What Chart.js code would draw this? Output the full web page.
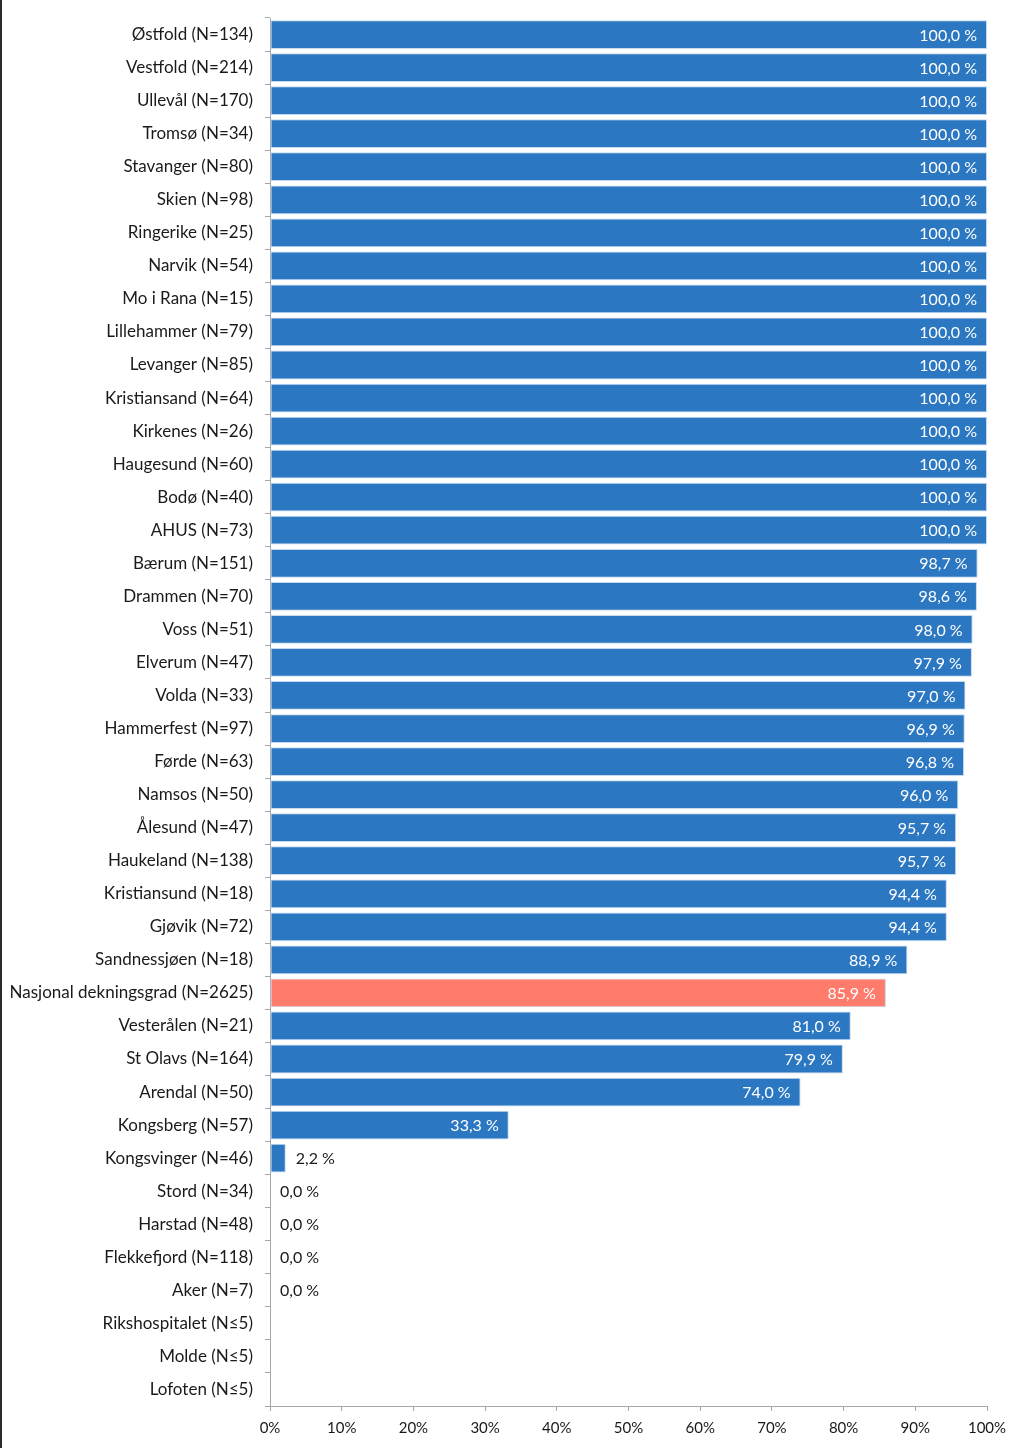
<!DOCTYPE html>
<html>
<head>
<meta charset="utf-8">
<script src="https://cdn.jsdelivr.net/npm/chart.js@4.4.1/dist/chart.umd.min.js"></script>
<style>
  html, body { margin: 0; padding: 0; background: #fff; }
  #wrap { position: relative; width: 1024px; height: 1448px; }
  #edge { position: absolute; left: 0; top: 0; width: 2px; height: 1448px; background: #2b2b2b; }
</style>
</head>
<body>
<div id="wrap">
  <canvas id="c" width="1024" height="1448"></canvas>
  <div id="edge"></div>
</div>
<script>
const categories = [
  "Østfold (N=134)", "Vestfold (N=214)", "Ullevål (N=170)", "Tromsø (N=34)",
  "Stavanger (N=80)", "Skien (N=98)", "Ringerike (N=25)", "Narvik (N=54)",
  "Mo i Rana (N=15)", "Lillehammer (N=79)", "Levanger (N=85)", "Kristiansand (N=64)",
  "Kirkenes (N=26)", "Haugesund (N=60)", "Bodø (N=40)", "AHUS (N=73)",
  "Bærum (N=151)", "Drammen (N=70)", "Voss (N=51)", "Elverum (N=47)",
  "Volda (N=33)", "Hammerfest (N=97)", "Førde (N=63)", "Namsos (N=50)",
  "Ålesund (N=47)", "Haukeland (N=138)", "Kristiansund (N=18)", "Gjøvik (N=72)",
  "Sandnessjøen (N=18)", "Nasjonal dekningsgrad (N=2625)", "Vesterålen (N=21)",
  "St Olavs (N=164)", "Arendal (N=50)", "Kongsberg (N=57)", "Kongsvinger (N=46)",
  "Stord (N=34)", "Harstad (N=48)", "Flekkefjord (N=118)", "Aker (N=7)",
  "Rikshospitalet (N≤5)", "Molde (N≤5)", "Lofoten (N≤5)"
];
const values = [
  100, 100, 100, 100, 100, 100, 100, 100,
  100, 100, 100, 100, 100, 100, 100, 100,
  98.7, 98.6, 98.0, 97.9, 97.0, 96.9, 96.8, 96.0,
  95.7, 95.7, 94.4, 94.4, 88.9, 85.9, 81.0,
  79.9, 74.0, 33.3, 2.2,
  0.0, 0.0, 0.0, 0.0,
  null, null, null
];
const highlightCategory = "Nasjonal dekningsgrad (N=2625)";
const xTicks = [0, 10, 20, 30, 40, 50, 60, 70, 80, 90, 100];

const BLUE = "#2b77c2";
const SALMON = "#ff7b6b";
const FONT = "Lato, 'Open Sans', sans-serif";

const barColors = categories.map(c => c === highlightCategory ? SALMON : BLUE);

const valueLabels = {
  id: "valueLabels",
  afterDatasetsDraw(chart) {
    const ctx = chart.ctx;
    const meta = chart.getDatasetMeta(0);
    ctx.save();
    ctx.font = "16px " + FONT;
    ctx.textBaseline = "middle";
    meta.data.forEach((bar, i) => {
      const v = values[i];
      if (v === null || v === undefined) return;
      const txt = v.toFixed(1).replace(".", ",") + " %";
      if (v >= 10) {
        ctx.fillStyle = "#ffffff";
        ctx.textAlign = "right";
        ctx.fillText(txt, bar.x - 10, bar.y + 1);
      } else {
        ctx.fillStyle = "#1a1a1a";
        ctx.textAlign = "left";
        ctx.fillText(txt, bar.x + 10, bar.y + 1);
      }
    });
    ctx.restore();
  }
};

new Chart(document.getElementById("c"), {
  type: "bar",
  data: {
    labels: categories,
    datasets: [{
      data: values,
      backgroundColor: barColors,
      borderColor: "#c4d9ef",
      borderWidth: 1,
      borderSkipped: false,
      barPercentage: 0.87,
      categoryPercentage: 1.0
    }]
  },
  options: {
    indexAxis: "y",
    responsive: false,
    animation: false,
    devicePixelRatio: 1,
    layout: { padding: { left: 0, right: 37, top: 18, bottom: 0 } },
    plugins: {
      legend: { display: false },
      tooltip: { enabled: false }
    },
    scales: {
      y: {
        type: "category",
        afterFit(scale) {
          scale.width = 270;
          scale.paddingTop = 0;
          scale.paddingBottom = 0;
        },
        grid: {
          display: true,
          offset: true,
          drawOnChartArea: false,
          tickLength: 5,
          color: "#a6a6a6"
        },
        border: { display: true, color: "#a6a6a6", width: 1 },
        ticks: {
          color: "#1a1a1a",
          padding: 12,
          autoSkip: false,
          font: { family: FONT, size: 17 }
        }
      },
      x: {
        type: "linear",
        min: 0,
        max: 100,
        afterFit(scale) { scale.height = 42; },
        afterBuildTicks(scale) { scale.ticks = xTicks.map(v => ({ value: v })); },
        grid: {
          display: true,
          drawOnChartArea: false,
          tickLength: 5,
          color: "#a6a6a6"
        },
        border: { display: true, color: "#a6a6a6", width: 1 },
        ticks: {
          color: "#1a1a1a",
          padding: 8,
          font: { family: FONT, size: 15 },
          callback: v => v + "%"
        }
      }
    }
  },
  plugins: [valueLabels]
});
</script>
</body>
</html>
